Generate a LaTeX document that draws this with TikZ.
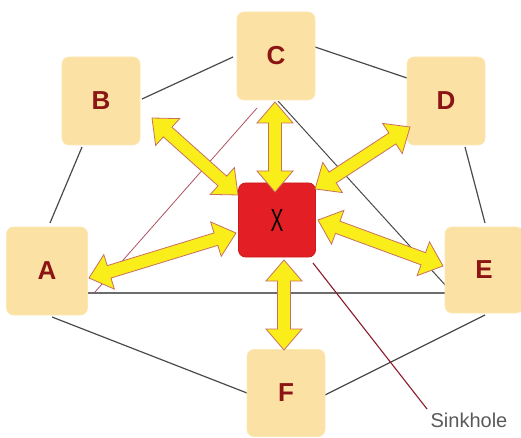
\documentclass[tikz,border=0pt]{standalone}
\usepackage{fontspec}
\setmainfont{Liberation Sans}
\usetikzlibrary{calc}
\definecolor{boxfill}{HTML}{FBE1A3}
\definecolor{lettercol}{HTML}{8C1414}
\definecolor{xred}{HTML}{E31E24}
\definecolor{xredborder}{HTML}{C81E1E}
\definecolor{arrowfill}{HTML}{F9EE1A}
\definecolor{arrowline}{HTML}{C87060}
\definecolor{edgegray}{HTML}{4A4A4A}
\definecolor{sinkline}{HTML}{8B1A2A}
\definecolor{thinred}{HTML}{B05060}
\tikzset{
  peer/.style={rounded corners=7pt, fill=boxfill, draw=boxfill!80!white, line width=0.6pt,
    minimum width=78pt, minimum height=88pt, inner sep=0pt,
    font=\fontsize{26}{26}\selectfont\bfseries, text=lettercol},
  sinkbox/.style={rounded corners=7pt, fill=xred, draw=xredborder, line width=0.8pt,
    minimum width=77pt, minimum height=74pt, inner sep=0pt},
  ring/.style={draw=edgegray, line width=1.2pt},
  arrowshape/.style={fill=arrowfill, draw=arrowline, line width=0.8pt, line join=miter},
}
\def\hl{21pt}
\def\hw{18pt}
\def\sw{6.5pt}
\newcommand\dblarrow[2]{%
  \path[arrowshape] let \p1=($(#2)-(#1)$), \n1={atan2(\y1,\x1)}, \n2={veclen(\x1,\y1)} in
    [shift={(#1)}, rotate=\n1]
    (0pt,0pt) -- (\hl,\hw) -- (\hl,\sw) -- (\n2-\hl,\sw) -- (\n2-\hl,\hw) -- (\n2,0pt)
    -- (\n2-\hl,-\hw) -- (\n2-\hl,-\sw) -- (\hl,-\sw) -- (\hl,-\hw) -- cycle;}
\begin{document}
\begin{tikzpicture}[x=1pt,y=-1pt]
\useasboundingbox (0,0) rectangle (521,438);
% ring edges
\coordinate (cb1) at (233,57); \coordinate (cb2) at (142,99);
\coordinate (cd1) at (315,47); \coordinate (cd2) at (407,78);
\coordinate (ba1) at (82,147); \coordinate (ba2) at (50,223);
\coordinate (de1) at (465,147); \coordinate (de2) at (485,223);
\coordinate (af1) at (52,317); \coordinate (af2) at (247,393);
\coordinate (fe1) at (325,395); \coordinate (fe2) at (485,315);
\draw[ring] (cb1) -- (cb2);
\draw[ring] (cd1) -- (cd2);
\draw[ring] (ba1) -- (ba2);
\draw[ring] (de1) -- (de2);
\draw[ring] (af1) -- (af2);
\draw[ring] (fe1) -- (fe2);
% triangle
\coordinate (ta) at (86,293); \coordinate (te) at (448,293);
\coordinate (tc1) at (278,101); \coordinate (tce) at (447,287);
\coordinate (tc2) at (257,108); \coordinate (tca) at (95,292);
\draw[draw=gray!85!black, line width=1.8pt] (ta) -- (te);
\draw[ring, line width=1pt] (tc1) -- (tce);
\draw[draw=thinred, line width=0.8pt] (tc2) -- (tca);
% sinkhole label line
\coordinate (s1) at (313,263);
\node[text=gray!70!black, font=\fontsize{20}{20}\selectfont, anchor=center] (sk) at (469,420) {Sinkhole};
\draw[draw=sinkline, line width=1.1pt] (s1) -- (sk.north west);
% boxes
\node[peer] (C) at (276,56) {C};
\node[peer] (B) at (101,101) {B};
\node[peer] (D) at (446,101) {D};
\node[peer, minimum width=81pt] (A) at (47,271) {A};
\node[peer, minimum height=86pt] (E) at (484,270) {E};
\node[peer, minimum height=87pt] (F) at (286,393) {F};
\node[sinkbox, font=\fontsize{32}{32}\selectfont] (X) at (277,220) {\scalebox{0.6}[1]{X}};
% arrow ends
\coordinate (bt) at (152,118); \coordinate (bx) at (238,195);
\coordinate (ct) at (275,102); \coordinate (cx) at (275,192);
\coordinate (dt) at (410,127); \coordinate (dx) at (315,189);
\coordinate (at) at (89,278);  \coordinate (ax) at (236,233);
\coordinate (et) at (443,266); \coordinate (ex) at (318,220);
\coordinate (ft) at (284,350); \coordinate (fx) at (284,260);
\dblarrow{bt}{bx}
\dblarrow{ct}{cx}
\dblarrow{dt}{dx}
\dblarrow{at}{ax}
\dblarrow{et}{ex}
\dblarrow{ft}{fx}
\end{tikzpicture}
\end{document}
